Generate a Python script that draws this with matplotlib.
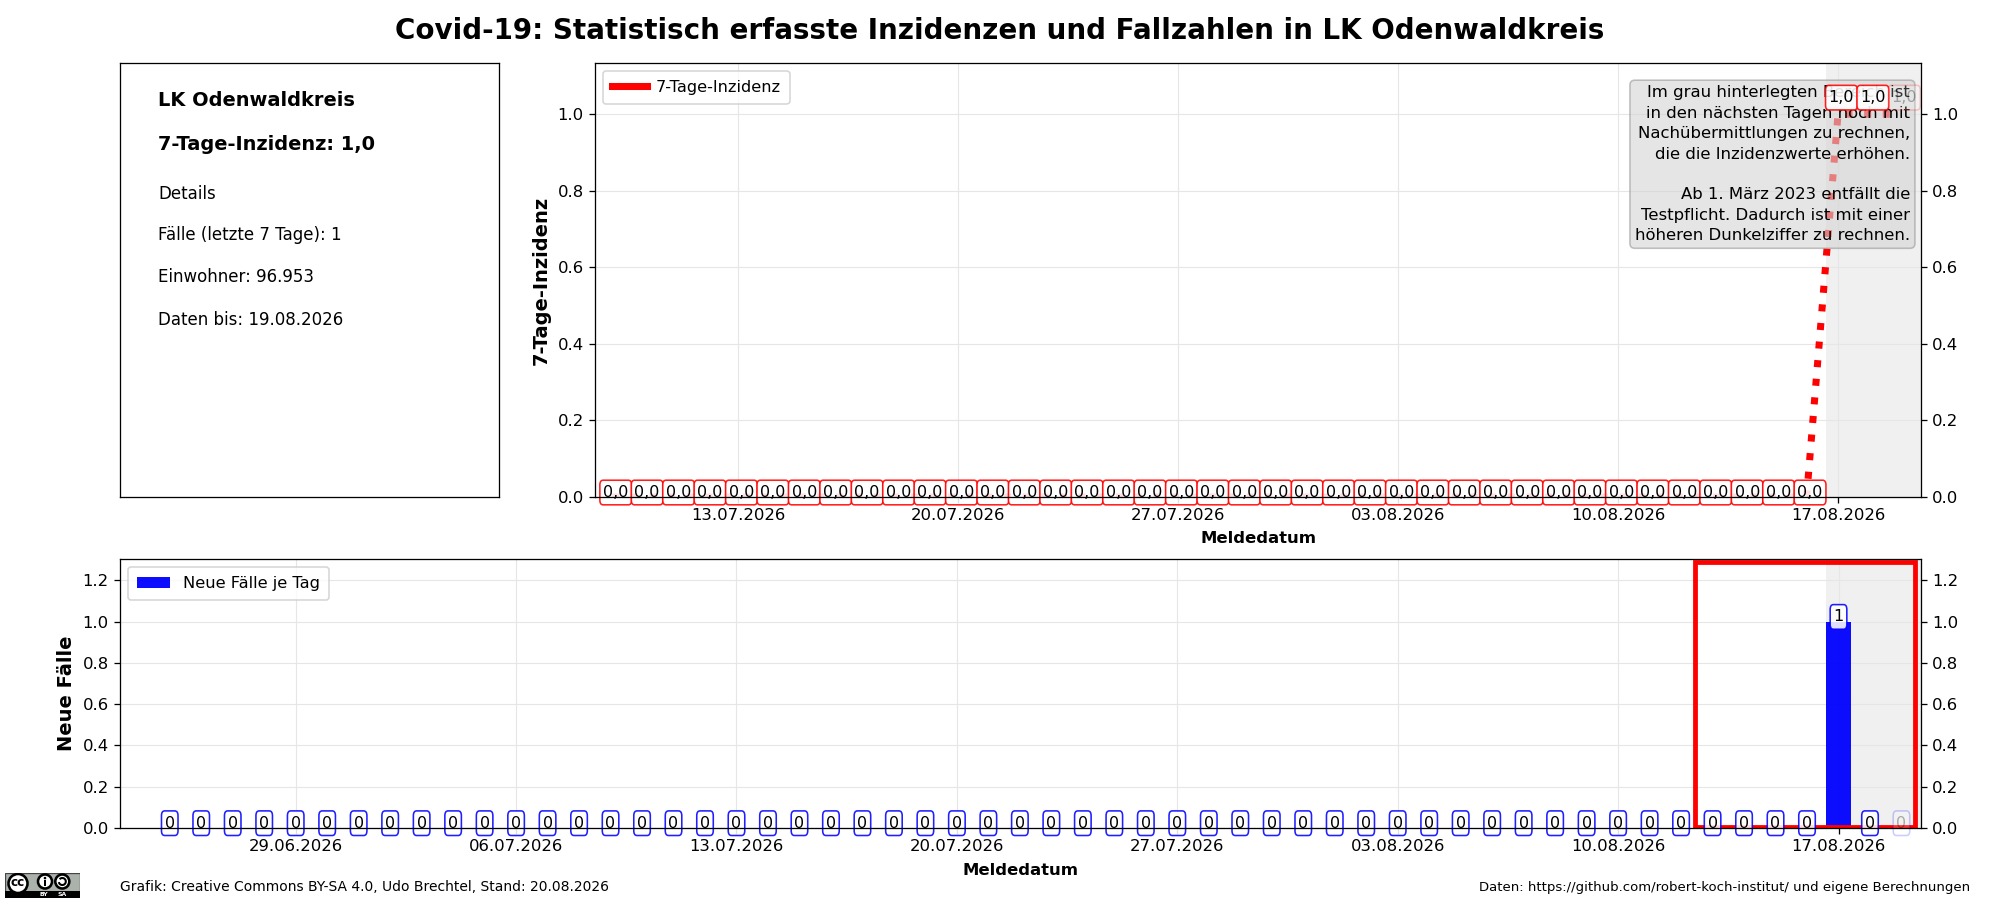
import datetime as dt
import matplotlib
matplotlib.use('Agg')
import matplotlib.pyplot as plt
import matplotlib.dates as mdates
from matplotlib.patches import Rectangle, Circle, Arc

# values
inz_start = dt.date(2026, 7, 9)
inz_values = [0.0] * 39 + [1.0, 1.0, 1.0]
faelle_start = dt.date(2026, 6, 25)
faelle_values = [0] * 53 + [1, 0, 0]
inz_ticks = ['13.07.2026', '20.07.2026', '27.07.2026', '03.08.2026', '10.08.2026', '17.08.2026']
faelle_ticks = ['29.06.2026', '06.07.2026', '13.07.2026', '20.07.2026', '27.07.2026',
                '03.08.2026', '10.08.2026', '17.08.2026']
details = ['Details', 'Fälle (letzte 7 Tage): 1', 'Einwohner: 96.953', 'Daten bis: 19.08.2026']
hinweis = ('Im grau hinterlegten Bereich ist\nin den nächsten Tagen noch mit\n'
           'Nachübermittlungen zu rechnen,\ndie die Inzidenzwerte erhöhen.\n\n'
           'Ab 1. März 2023 entfällt die\nTestpflicht. Dadurch ist mit einer\n'
           'höheren Dunkelziffer zu rechnen.')

W, H = 2000, 900
DPI = 115.2
plt.rcParams['font.size'] = 10.3


def ax_px(x0, y0, x1, y1):
    return fig.add_axes([x0 / W, 1 - y1 / H, (x1 - x0) / W, (y1 - y0) / H])


def num(d, offset=0.0):
    return mdates.date2num(d) + offset


def days(start, n):
    return [start + dt.timedelta(days=i) for i in range(n)]


def parse(s):
    return dt.datetime.strptime(s, '%d.%m.%Y').date()


def label(ax, x, y, s, dy_pt, colour, faded):
    # spines stay on top of the labels, like in the original
    ax.annotate(s, (x, y), xytext=(0, dy_pt), textcoords='offset points',
                ha='center', va='center', fontsize=10, zorder=2.4, clip_on=False,
                alpha=0.3 if faded else 1,
                bbox=dict(boxstyle='round,pad=0.2', fc='white', ec=colour, mutation_aspect=1.5,
                          alpha=0.2 if faded else 0.88))


fig = plt.figure(figsize=(W / DPI, H / DPI), dpi=DPI)
fig.text(0.5, 0.966, 'Covid-19: Statistisch erfasste Inzidenzen und Fallzahlen in LK Odenwaldkreis',
         ha='center', va='center', fontsize=17.35, fontweight='bold')

# info box
ax_info = ax_px(120, 63, 499, 497)
ax_info.set_xticks([])
ax_info.set_yticks([])
ax_info.set_xlim(0, 1)
ax_info.set_ylim(0, 1)
ax_info.text(0.1, 0.913, 'LK Odenwaldkreis', fontsize=12.1, fontweight='bold', va='center')
ax_info.text(0.1, 0.812, '7-Tage-Inzidenz: 1,0', fontsize=12.1, fontweight='bold', va='center')
for y, s in zip([0.698, 0.603, 0.506, 0.408], details):
    ax_info.text(0.1, y, s, fontsize=10.4, va='center')

# 7-Tage-Inzidenz
ax1 = ax_px(595, 63, 1921, 497)
x1 = days(inz_start, len(inz_values))
ax1.axvspan(num(dt.date(2026, 8, 16), 0.62), num(dt.date(2026, 8, 19), 0.64), color='#f0f0f0', lw=0, zorder=0)
ax1.plot(x1, inz_values, color='red', lw=4.4, ls=':', zorder=2)
ax1.plot([], [], color='red', lw=4.4, label='7-Tage-Inzidenz')
ax1.set_xlim(num(dt.date(2026, 7, 8), 0.45), num(dt.date(2026, 8, 19), 0.64))
ax1.set_ylim(0, 1.134)
ax1.set_xticks([parse(t) for t in inz_ticks])
ax1.set_xticklabels(inz_ticks)
ax1.grid(True, color='#e6e6e6', lw=0.7, zorder=1)
ax1.set_axisbelow(True)
ax1.tick_params(labelright=True, right=True)
ax1.set_xlabel('Meldedatum', fontweight='bold', labelpad=5)
ax1.set_ylabel('7-Tage-Inzidenz', fontweight='bold', fontsize=12.2)
ax1.legend(loc='upper left', borderpad=0.55, handlelength=2.15, handletextpad=0.55, fontsize=10.1)
ax1.text(0.9917, 0.949, hinweis, transform=ax1.transAxes, ha='right', va='top', fontsize=10.3,
         linespacing=1.455, zorder=2.3,
         bbox=dict(boxstyle='round', fc='#d4d4d4', ec='#999999', alpha=0.6))
for i, (d, v) in enumerate(zip(x1, inz_values)):
    label(ax1, num(d, 0.11), v, f'{v:.1f}'.replace('.', ','), 10.4 if v else 2.8, 'red', i == len(inz_values) - 1)

# Neue Faelle
ax2 = ax_px(120, 559, 1921, 828)
x2 = days(faelle_start, len(faelle_values))
ax2.axvspan(num(dt.date(2026, 8, 16), 0.6), num(dt.date(2026, 8, 19), 0.62), color='#f0f0f0', lw=0, zorder=0)
ax2.bar(x2, faelle_values, width=0.8, color='#0000ff', alpha=0.95, label='Neue Fälle je Tag', zorder=2)
ax2.add_patch(Rectangle((num(dt.date(2026, 8, 12), 0.45), 0.007), 6.97, 1.283, fill=False, ec='red', lw=3, zorder=2.2))
ax2.set_xlim(num(dt.date(2026, 6, 23), 0.42), num(dt.date(2026, 8, 19), 0.62))
ax2.set_ylim(0, 1.304)
ax2.set_yticks([0, 0.2, 0.4, 0.6, 0.8, 1.0, 1.2])
ax2.set_xticks([parse(t) for t in faelle_ticks])
ax2.set_xticklabels(faelle_ticks)
ax2.grid(True, color='#e6e6e6', lw=0.7, zorder=2.1)
ax2.tick_params(labelright=True, right=True)
ax2.set_xlabel('Meldedatum', fontweight='bold', labelpad=5.5)
ax2.set_ylabel('Neue Fälle', fontweight='bold', fontsize=12.2)
ax2.legend(loc='upper left', borderpad=0.55, fontsize=10.2)
for i, (d, v) in enumerate(zip(x2, faelle_values)):
    label(ax2, num(d), v, str(v), 3.0, 'blue', i == len(faelle_values) - 1)

# footer
fig.text(120 / W, 1 - 887 / H, 'Grafik: Creative Commons BY-SA 4.0, Udo Brechtel, Stand: 20.08.2026',
         fontsize=8.7, va='center')
fig.text(1970 / W, 1 - 887 / H, 'Daten: https://github.com/robert-koch-institut/ und eigene Berechnungen',
         fontsize=8.3, va='center', ha='right')

# cc logo
ax_cc = ax_px(5, 872.5, 80, 897.5)
ax_cc.set_xlim(0, 75)
ax_cc.set_ylim(25, 0)
ax_cc.axis('off')
ax_cc.add_patch(Rectangle((0, 0), 75, 25, fc='#aab2ab', ec='#444444', lw=0.8))
ax_cc.add_patch(Rectangle((0, 18.5), 75, 6.5, fc='black', ec='none'))
for cx, cy, r in [(13, 11, 9.5), (40, 9, 7), (57.3, 9, 7)]:
    ax_cc.add_patch(Circle((cx, cy), r, fc='white', ec='black', lw=1.6))
ax_cc.text(13, 10.5, 'cc', fontsize=7.5, fontweight='bold', ha='center', va='center')
ax_cc.add_patch(Circle((40, 5.6), 1.3, fc='black', ec='none'))
ax_cc.add_patch(Rectangle((38.6, 7.5), 2.8, 6, fc='black', ec='none'))
ax_cc.add_patch(Arc((57.3, 9), 7, 7, theta1=-140, theta2=170, color='black', lw=1.3))
ax_cc.text(39, 22, 'BY', fontsize=3.8, fontweight='bold', color='white', ha='center', va='center')
ax_cc.text(56.7, 22, 'SA', fontsize=3.8, fontweight='bold', color='white', ha='center', va='center')

fig.savefig('out.png', dpi=DPI)
